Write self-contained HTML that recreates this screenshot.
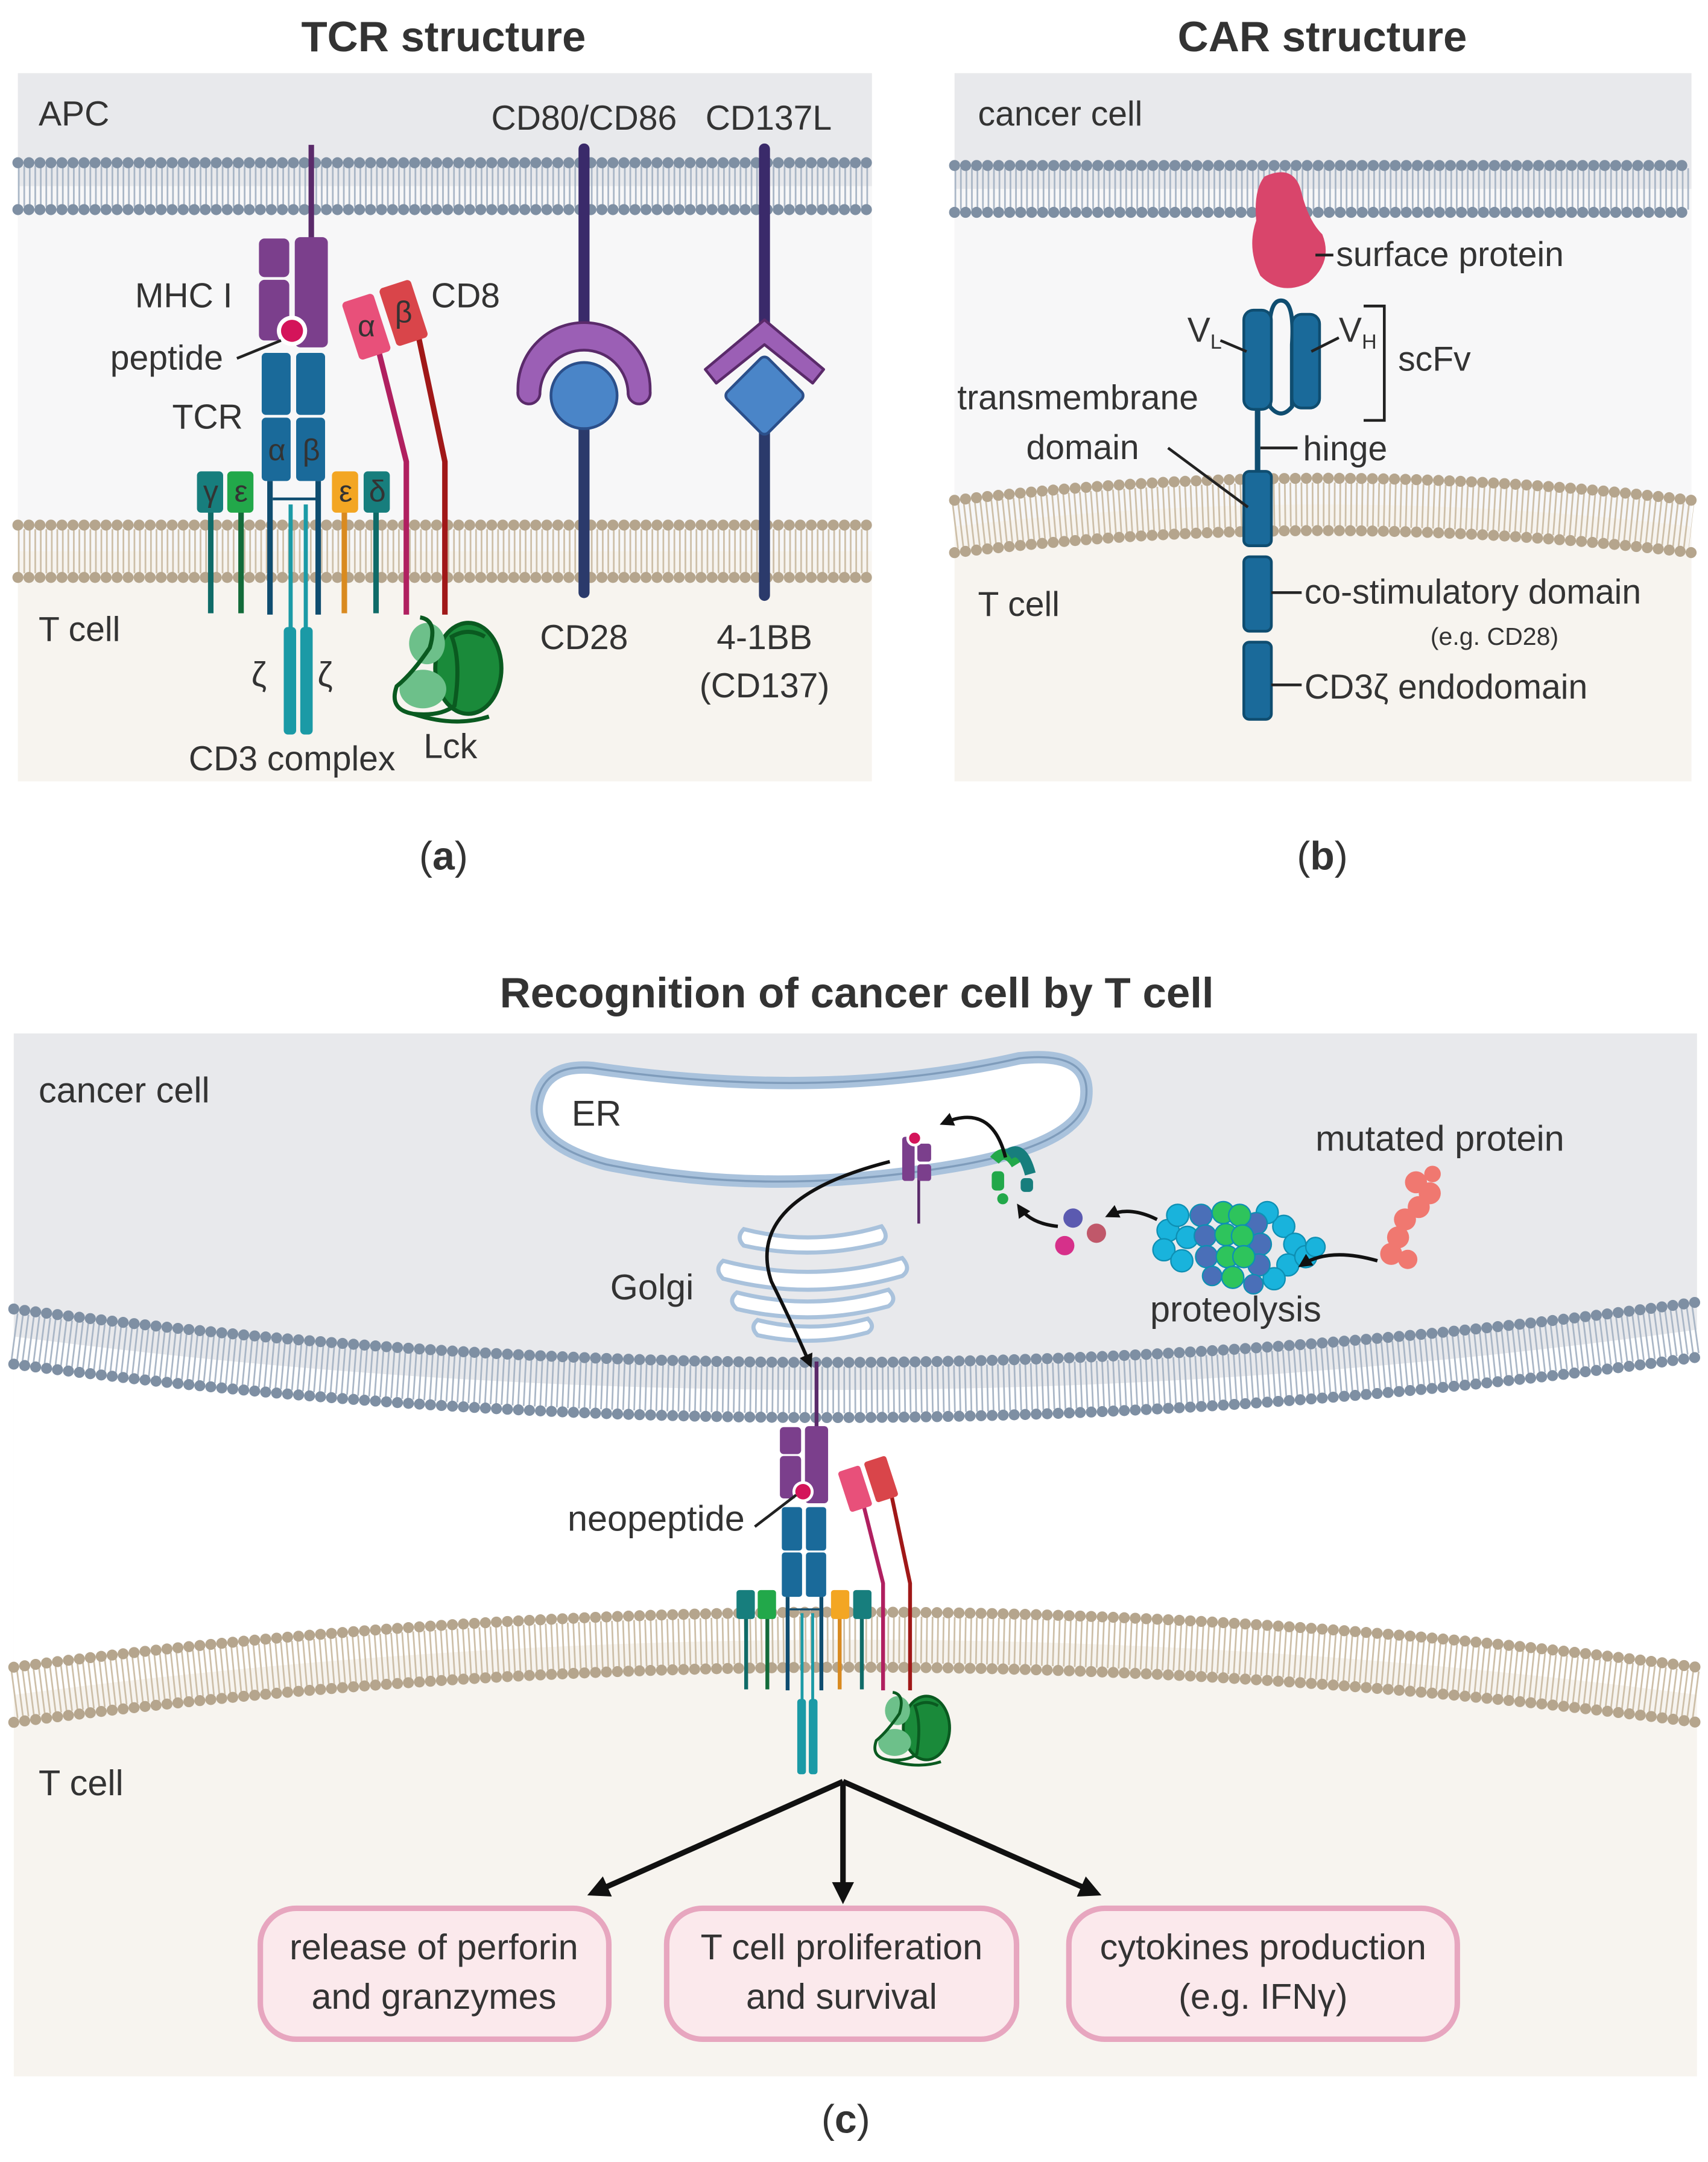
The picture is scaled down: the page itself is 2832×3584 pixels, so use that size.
<!DOCTYPE html>
<html><head><meta charset="utf-8"><style>
html,body{margin:0;padding:0;background:#fff}
svg{display:block}
text{font-family:"Liberation Sans",sans-serif;fill:#333}
</style></head><body>
<svg width="2832" height="3584" viewBox="0 0 1240 1569" xmlns="http://www.w3.org/2000/svg">
<defs>
<marker id="ah" markerWidth="10" markerHeight="10" refX="7" refY="5" orient="auto" markerUnits="userSpaceOnUse"><path d="M0,0 L10,5 L0,10 z" fill="#111"/></marker>
<marker id="ahb" markerWidth="16" markerHeight="16" refX="12" refY="8" orient="auto" markerUnits="userSpaceOnUse"><path d="M0,0 L16,8 L0,16 z" fill="#111"/></marker>
<g id="cx">
 <line x1="226" y1="105" x2="226" y2="176" stroke="#5a2a6a" stroke-width="4"/>
 <rect x="214" y="172" width="24" height="80" rx="4" fill="#7b3f8c"/>
 <rect x="188" y="173" width="22" height="28" rx="4" fill="#7b3f8c"/>
 <rect x="188" y="203" width="22" height="44" rx="4" fill="#7b3f8c"/>
 <circle cx="212" cy="240" r="11" fill="#fff"/>
 <circle cx="212" cy="240" r="8" fill="#d4145a"/>
 <rect x="190" y="256" width="21" height="45" rx="3" fill="#1a6a9a"/>
 <rect x="215" y="256" width="21" height="45" rx="3" fill="#1a6a9a"/>
 <rect x="190" y="303" width="21" height="46" rx="3" fill="#1a6a9a"/>
 <rect x="215" y="303" width="21" height="46" rx="3" fill="#1a6a9a"/>
 <line x1="196" y1="349" x2="196" y2="446" stroke="#0f4d70" stroke-width="4"/>
 <line x1="231" y1="349" x2="231" y2="446" stroke="#0f4d70" stroke-width="4"/>
 <line x1="198" y1="362" x2="229" y2="362" stroke="#0f4d70" stroke-width="2"/>
 <line x1="211" y1="366" x2="211" y2="530" stroke="#1b9aa6" stroke-width="3"/>
 <line x1="222" y1="366" x2="222" y2="530" stroke="#1b9aa6" stroke-width="3"/>
 <rect x="206" y="455" width="9" height="78" rx="3" fill="#1b9aa6"/>
 <rect x="218" y="455" width="9" height="78" rx="3" fill="#1b9aa6"/>
 <line x1="153" y1="370" x2="153" y2="445" stroke="#0f6b68" stroke-width="4"/>
 <line x1="175" y1="370" x2="175" y2="445" stroke="#136b3a" stroke-width="4"/>
 <line x1="250" y1="370" x2="250" y2="445" stroke="#d98a20" stroke-width="4"/>
 <line x1="273" y1="370" x2="273" y2="445" stroke="#0f6b68" stroke-width="4"/>
 <rect x="143" y="342" width="19" height="30" rx="3" fill="#177e7d"/>
 <rect x="165" y="342" width="19" height="30" rx="3" fill="#22a84a"/>
 <rect x="241" y="342" width="19" height="30" rx="3" fill="#f3a623"/>
 <rect x="264" y="342" width="19" height="30" rx="3" fill="#177e7d"/>
 <polyline points="275,255 295,335 295,446" fill="none" stroke="#b02060" stroke-width="4"/>
 <polyline points="304,245 323,335 323,446" fill="none" stroke="#a01818" stroke-width="4"/>
 <rect x="254" y="215" width="24" height="44" rx="3" fill="#e8507a" transform="rotate(-18 266 237)"/>
 <rect x="281" y="205" width="24" height="44" rx="3" fill="#d9454a" transform="rotate(-18 293 227)"/>
 <ellipse cx="340" cy="485" rx="24" ry="33" fill="#1a8a3a" stroke="#0a5a20" stroke-width="3"/>
 <ellipse cx="310" cy="467" rx="13" ry="15" fill="#6dc08a"/>
 <ellipse cx="307" cy="500" rx="17" ry="14" fill="#6dc08a"/>
 <path d="M305,448 Q318,450 312,470 Q300,488 288,498 Q282,515 300,518 Q320,520 330,512 Q335,480 328,462 Q340,455 352,462" fill="none" stroke="#0a5a20" stroke-width="3"/>
 <path d="M300,518 Q330,528 355,520" fill="none" stroke="#0a5a20" stroke-width="3"/>
</g>
</defs>

<text x="322" y="37" font-size="31" font-weight="bold" text-anchor="middle" fill="#222">TCR structure</text>
<text x="960" y="37" font-size="31" font-weight="bold" text-anchor="middle" fill="#222">CAR structure</text>
<text x="622" y="731" font-size="31" font-weight="bold" text-anchor="middle" fill="#222">Recognition of cancer cell by T cell</text>

<!-- PANEL A -->
<rect x="13" y="53" width="620" height="514" fill="#f7f4ef"/>
<rect x="13" y="53" width="620" height="82" fill="#e8e9ec"/>
<rect x="13" y="135" width="620" height="265" fill="#f7f7f8"/>
<line x1="13" y1="135" x2="633" y2="135" stroke="#a9b6c6" stroke-width="30" stroke-dasharray="1.2 2.8"/>
<line x1="13" y1="118" x2="633" y2="118" stroke="#7e8fa3" stroke-width="8" stroke-dasharray="0 8" stroke-linecap="round"/>
<line x1="13" y1="152" x2="633" y2="152" stroke="#7e8fa3" stroke-width="8" stroke-dasharray="0 8" stroke-linecap="round"/>
<line x1="13" y1="400" x2="633" y2="400" stroke="#cdbfa8" stroke-width="32" stroke-dasharray="1.2 2.8"/>
<line x1="13" y1="381" x2="633" y2="381" stroke="#b5a58d" stroke-width="8" stroke-dasharray="0 8" stroke-linecap="round"/>
<line x1="13" y1="419" x2="633" y2="419" stroke="#b5a58d" stroke-width="8" stroke-dasharray="0 8" stroke-linecap="round"/>

<use href="#cx"/>
<line x1="424" y1="108" x2="424" y2="240" stroke="#3a2a6a" stroke-width="8" stroke-linecap="round"/>
<line x1="424" y1="300" x2="424" y2="430" stroke="#2b3a6b" stroke-width="8" stroke-linecap="round"/>
<path d="M376,282 A48,48 0 0 1 472,282 L472,284 A8,8 0 0 1 456,286 A32,32 0 0 0 392,286 A8,8 0 0 1 376,284 Z" fill="#9b5fb5" stroke="#5a2a6a" stroke-width="2"/>
<circle cx="424" cy="287" r="24" fill="#4a85c8" stroke="#2b4f8a" stroke-width="2"/>
<line x1="555" y1="108" x2="555" y2="235" stroke="#3a2a6a" stroke-width="8" stroke-linecap="round"/>
<line x1="555" y1="300" x2="555" y2="432" stroke="#2b3a6b" stroke-width="8" stroke-linecap="round"/>
<path d="M555,232 L598,268 L590,278 L555,250 L520,278 L512,268 Z" fill="#9b5fb5" stroke="#5a2a6a" stroke-width="2" stroke-linejoin="round"/>
<rect x="534" y="266" width="42" height="42" rx="4" fill="#4a85c8" stroke="#2b4f8a" stroke-width="2" transform="rotate(45 555 287)"/>

<g font-size="25">
<text x="28" y="91">APC</text>
<text x="424" y="94" text-anchor="middle">CD80/CD86</text>
<text x="558" y="94" text-anchor="middle">CD137L</text>
<text x="98" y="223">MHC I</text>
<text x="80" y="268">peptide</text>
<text x="125" y="311">TCR</text>
<text x="313" y="223">CD8</text>
<text x="28" y="465">T cell</text>
<text x="424" y="471" text-anchor="middle">CD28</text>
<text x="555" y="471" text-anchor="middle">4-1BB</text>
<text x="555" y="506" text-anchor="middle">(CD137)</text>
<text x="188" y="498" text-anchor="middle">ζ</text>
<text x="236" y="498" text-anchor="middle">ζ</text>
<text x="212" y="559" text-anchor="middle">CD3 complex</text>
<text x="327" y="550" text-anchor="middle">Lck</text>
</g>
<line x1="172" y1="260" x2="204" y2="247" stroke="#222" stroke-width="2"/>
<g font-size="22" text-anchor="middle">
<text x="201" y="334" fill="#0d3a5c">α</text><text x="226" y="334" fill="#0d3a5c">β</text>
<text x="153" y="364" fill="#0d3a5c">γ</text><text x="175" y="364" fill="#0d3a5c">ε</text>
<text x="251" y="364" fill="#0d3a5c">ε</text><text x="274" y="364" fill="#0d3a5c">δ</text>
<text x="266" y="244" fill="#5a1020">α</text><text x="293" y="234" fill="#5a1020">β</text>
</g>

<!-- PANEL B -->
<rect x="693" y="53" width="535" height="514" fill="#f7f4ef"/>
<rect x="693" y="53" width="535" height="84" fill="#e8e9ec"/>
<path d="M693,137 H1228 V382 Q960,350 693,382 Z" fill="#f7f7f8"/>
<line x1="693" y1="137" x2="1228" y2="137" stroke="#a9b6c6" stroke-width="30" stroke-dasharray="1.2 2.8"/>
<line x1="693" y1="120" x2="1228" y2="120" stroke="#7e8fa3" stroke-width="8" stroke-dasharray="0 8" stroke-linecap="round"/>
<line x1="693" y1="154" x2="1228" y2="154" stroke="#7e8fa3" stroke-width="8" stroke-dasharray="0 8" stroke-linecap="round"/>
<path d="M693,382 Q960,350 1228,382" fill="none" stroke="#cdbfa8" stroke-width="32" stroke-dasharray="1.2 2.8"/>
<path d="M693,363 Q960,331 1228,363" fill="none" stroke="#b5a58d" stroke-width="8" stroke-dasharray="0 8" stroke-linecap="round"/>
<path d="M693,401 Q960,369 1228,401" fill="none" stroke="#b5a58d" stroke-width="8" stroke-dasharray="0 8" stroke-linecap="round"/>

<path d="M918,128 Q940,118 945,140 Q950,160 960,170 Q968,190 950,205 Q930,215 915,200 Q905,180 912,160 Q910,138 918,128 Z" fill="#d9456b"/>
<line x1="955" y1="185" x2="968" y2="185" stroke="#222" stroke-width="2"/>
<path d="M922,250 Q920,218 930,218 Q940,218 938,250 L938,295 Q930,305 922,295 Z" fill="none" stroke="#0f4d70" stroke-width="3"/>
<rect x="903" y="225" width="20" height="72" rx="7" fill="#1a6a9a" stroke="#0f4d70" stroke-width="2"/>
<rect x="938" y="228" width="20" height="68" rx="7" fill="#1a6a9a" stroke="#0f4d70" stroke-width="2"/>
<line x1="913" y1="297" x2="913" y2="345" stroke="#0f4d70" stroke-width="4"/>
<rect x="903" y="342" width="20" height="54" rx="4" fill="#1a6a9a" stroke="#0f4d70" stroke-width="2"/>
<rect x="903" y="404" width="20" height="54" rx="4" fill="#1a6a9a" stroke="#0f4d70" stroke-width="2"/>
<rect x="903" y="466" width="20" height="56" rx="4" fill="#1a6a9a" stroke="#0f4d70" stroke-width="2"/>
<polyline points="990,222 1005,222 1005,305 990,305" fill="none" stroke="#222" stroke-width="2"/>
<line x1="886" y1="247" x2="905" y2="255" stroke="#222" stroke-width="2"/>
<line x1="972" y1="245" x2="952" y2="255" stroke="#222" stroke-width="2"/>
<line x1="915" y1="325" x2="942" y2="325" stroke="#222" stroke-width="2"/>
<line x1="848" y1="325" x2="906" y2="368" stroke="#222" stroke-width="2"/>
<line x1="923" y1="430" x2="945" y2="430" stroke="#222" stroke-width="2"/>
<line x1="923" y1="497" x2="945" y2="497" stroke="#222" stroke-width="2"/>
<g font-size="25">
<text x="710" y="91">cancer cell</text>
<text x="970" y="193">surface protein</text>
<text x="862" y="248">V<tspan font-size="15" dy="5">L</tspan></text>
<text x="972" y="248">V<tspan font-size="15" dy="5">H</tspan></text>
<text x="1015" y="269">scFv</text>
<text x="695" y="297">transmembrane</text>
<text x="745" y="333">domain</text>
<text x="946" y="334">hinge</text>
<text x="710" y="447">T cell</text>
<text x="947" y="438">co-stimulatory domain</text>
<text x="947" y="507">CD3ζ endodomain</text>
</g>
<text x="1085" y="468" font-size="18" text-anchor="middle">(e.g. CD28)</text>

<text x="322" y="631" font-size="29" text-anchor="middle" fill="#222">(<tspan font-weight="bold">a</tspan>)</text>
<text x="960" y="631" font-size="29" text-anchor="middle" fill="#222">(<tspan font-weight="bold">b</tspan>)</text>

<!-- PANEL C -->
<rect x="10" y="750" width="1222" height="757" fill="#f7f4ef"/>
<path d="M10,750 H1232 V965 Q620,1050 10,970 Z" fill="#e8e9ec"/>
<path d="M10,970 Q620,1050 1232,965 V1230 Q620,1150 10,1230 Z" fill="#ffffff"/>
<path d="M10,970 Q620,1050 1232,965" fill="none" stroke="#a9b6c6" stroke-width="34" stroke-dasharray="1.2 2.8"/>
<path d="M10,950 Q620,1030 1232,945" fill="none" stroke="#7e8fa3" stroke-width="8" stroke-dasharray="0 8" stroke-linecap="round"/>
<path d="M10,990 Q620,1070 1232,985" fill="none" stroke="#7e8fa3" stroke-width="8" stroke-dasharray="0 8" stroke-linecap="round"/>
<path d="M10,1230 Q620,1150 1232,1230" fill="none" stroke="#cdbfa8" stroke-width="34" stroke-dasharray="1.2 2.8"/>
<path d="M10,1210 Q620,1130 1232,1210" fill="none" stroke="#b5a58d" stroke-width="8" stroke-dasharray="0 8" stroke-linecap="round"/>
<path d="M10,1250 Q620,1170 1232,1250" fill="none" stroke="#b5a58d" stroke-width="8" stroke-dasharray="0 8" stroke-linecap="round"/>

<path d="M430,775 Q600,800 740,768 Q795,762 788,800 Q780,830 700,845 Q560,870 440,845 Q385,830 390,800 Q395,772 430,775 Z" fill="#fff" stroke="#a9c2dc" stroke-width="9"/>
<path d="M430,775 Q600,800 740,768 Q795,762 788,800 Q780,830 700,845 Q560,870 440,845 Q385,830 390,800 Q395,772 430,775 Z" fill="none" stroke="#7f9cbb" stroke-width="1.5"/>
<g fill="#fff" stroke="#a9c2dc" stroke-width="3">
<path d="M540,892 Q590,905 640,890 Q646,898 640,902 Q590,915 540,904 Q534,898 540,892 Z"/>
<path d="M525,915 Q590,932 655,913 Q662,921 655,926 Q590,945 525,928 Q518,921 525,915 Z"/>
<path d="M535,938 Q590,952 645,936 Q652,943 645,948 Q590,963 535,950 Q528,944 535,938 Z"/>
<path d="M550,958 Q590,968 630,957 Q636,963 630,967 Q590,978 550,969 Q544,963 550,958 Z"/>
</g>
<line x1="667" y1="850" x2="667" y2="888" stroke="#5a2a6a" stroke-width="2"/>
<rect x="655" y="825" width="9" height="32" rx="2" fill="#7b3f8c"/>
<rect x="666" y="830" width="10" height="13" rx="2" fill="#7b3f8c"/>
<rect x="666" y="845" width="10" height="12" rx="2" fill="#7b3f8c"/>
<circle cx="664" cy="826" r="5" fill="#d4145a" stroke="#fff" stroke-width="2"/>
<path d="M722,842 Q730,832 738,845" fill="none" stroke="#22a84a" stroke-width="8"/>
<path d="M732,838 Q742,830 748,852" fill="none" stroke="#177e7d" stroke-width="8"/>
<rect x="720" y="850" width="9" height="14" rx="3" fill="#22a84a"/>
<rect x="741" y="855" width="9" height="10" rx="3" fill="#177e7d"/>
<circle cx="728" cy="870" r="4" fill="#22a84a"/>
<circle cx="779" cy="884" r="7" fill="#5b5ab0"/>
<circle cx="796" cy="895" r="7" fill="#c0586a"/>
<circle cx="773" cy="904" r="7" fill="#d6308a"/>
<!-- proteasome as dot clusters -->
<g stroke="#0e8fb3" stroke-width="1">
<g fill="#19b3dc">
<circle cx="848" cy="893" r="8"/><circle cx="845" cy="907" r="8"/><circle cx="855" cy="882" r="8"/><circle cx="858" cy="915" r="8"/><circle cx="862" cy="898" r="8"/>
<circle cx="932" cy="890" r="8"/><circle cx="940" cy="903" r="8"/><circle cx="935" cy="918" r="8"/><circle cx="948" cy="912" r="8"/><circle cx="955" cy="905" r="7"/><circle cx="925" cy="928" r="8"/><circle cx="920" cy="880" r="8"/>
</g>
<g fill="#4a6fb8">
<circle cx="872" cy="882" r="8"/><circle cx="875" cy="897" r="8"/><circle cx="876" cy="912" r="8"/><circle cx="880" cy="926" r="7"/>
<circle cx="912" cy="888" r="8"/><circle cx="915" cy="903" r="8"/><circle cx="914" cy="918" r="8"/><circle cx="910" cy="932" r="7"/>
</g>
<g fill="#2ec45c">
<circle cx="888" cy="880" r="8"/><circle cx="900" cy="882" r="8"/><circle cx="890" cy="896" r="8"/><circle cx="902" cy="897" r="8"/><circle cx="891" cy="912" r="8"/><circle cx="903" cy="912" r="8"/><circle cx="895" cy="927" r="8"/>
</g>
</g>
<g fill="#f07870">
<circle cx="1028" cy="858" r="8"/><circle cx="1038" cy="866" r="8"/><circle cx="1030" cy="876" r="8"/><circle cx="1020" cy="885" r="8"/><circle cx="1015" cy="898" r="8"/><circle cx="1010" cy="910" r="8"/><circle cx="1022" cy="914" r="7"/><circle cx="1040" cy="852" r="6"/>
</g>
<path d="M1000,915 Q965,905 945,918" fill="none" stroke="#111" stroke-width="2.5" marker-end="url(#ah)"/>
<path d="M840,885 Q820,875 805,882" fill="none" stroke="#111" stroke-width="2.5" marker-end="url(#ah)"/>
<path d="M768,890 Q748,888 740,876" fill="none" stroke="#111" stroke-width="2.5" marker-end="url(#ah)"/>
<path d="M730,840 Q720,800 685,815" fill="none" stroke="#111" stroke-width="2.5" marker-end="url(#ah)"/>
<path d="M646,843 Q540,870 560,930 Q575,960 588,990" fill="none" stroke="#111" stroke-width="2.5" marker-end="url(#ah)"/>

<use href="#cx" transform="translate(434.6 914.6) scale(0.7)"/>
<line x1="548" y1="1108" x2="578" y2="1085" stroke="#222" stroke-width="2"/>

<line x1="612" y1="1293" x2="430" y2="1374" stroke="#111" stroke-width="4" marker-end="url(#ahb)"/>
<line x1="612" y1="1293" x2="612" y2="1378" stroke="#111" stroke-width="4" marker-end="url(#ahb)"/>
<line x1="612" y1="1293" x2="796" y2="1374" stroke="#111" stroke-width="4" marker-end="url(#ahb)"/>

<g fill="#fbe9ec" stroke="#e7a6bf" stroke-width="4">
<rect x="189" y="1385" width="253" height="95" rx="26"/>
<rect x="484" y="1385" width="254" height="95" rx="26"/>
<rect x="776" y="1385" width="282" height="95" rx="26"/>
</g>
<g font-size="26">
<text x="28" y="800">cancer cell</text>
<text x="415" y="817">ER</text>
<text x="443" y="943">Golgi</text>
<text x="955" y="835">mutated protein</text>
<text x="835" y="959">proteolysis</text>
<text x="412" y="1111">neopeptide</text>
<text x="28" y="1303">T cell</text>
<text x="315" y="1422" text-anchor="middle">release of perforin</text>
<text x="315" y="1458" text-anchor="middle">and granzymes</text>
<text x="611" y="1422" text-anchor="middle">T cell proliferation</text>
<text x="611" y="1458" text-anchor="middle">and survival</text>
<text x="917" y="1422" text-anchor="middle">cytokines production</text>
<text x="917" y="1458" text-anchor="middle">(e.g. IFNγ)</text>
</g>
<text x="614" y="1548" font-size="29" text-anchor="middle" fill="#222">(<tspan font-weight="bold">c</tspan>)</text>
</svg>
</body></html>
